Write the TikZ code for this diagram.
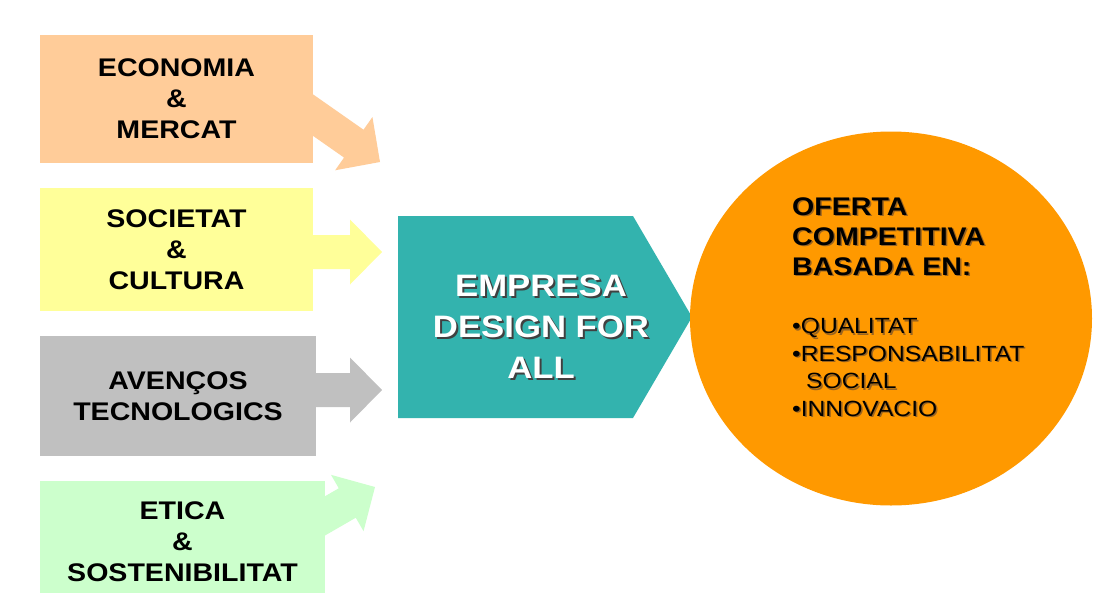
\documentclass[tikz,border=0pt]{standalone}
\usepackage{fontspec}
\setmainfont{Liberation Sans}
\newfontfamily\diagfont{Liberation Sans}[FakeStretch=1.12]
\usepackage{tikz}
\usetikzlibrary{shapes,positioning}
\definecolor{econcol}{HTML}{FFCC99}
\definecolor{soccol}{HTML}{FFFF99}
\definecolor{teccol}{HTML}{C0C0C0}
\definecolor{eticacol}{HTML}{CCFFCC}
\definecolor{empresacol}{HTML}{33B3AE}
\definecolor{ofertacol}{HTML}{FF9900}
\definecolor{ofertashade}{HTML}{9A6420}
\tikzset{factor/.style={rectangle, inner sep=0pt, align=center, font=\diagfont\bfseries\fontsize{25.5}{31}\selectfont}}
\tikzset{bigtext/.style={inner sep=0pt, align=center, font=\diagfont\bfseries\fontsize{31}{41}\selectfont}}
\tikzset{circtitle/.style={inner sep=0pt, align=left, anchor=north west, font=\diagfont\bfseries\fontsize{25.5}{30}\selectfont}}
\tikzset{circlist/.style={inner sep=0pt, align=left, anchor=north west, font=\diagfont\fontsize{22}{27.5}\selectfont}}
% block arrow: colour, tip, angle
\newcommand{\factorarrow}[3]{%
  \fill[#1, shift={(#2)}, rotate=#3] (0,0) -- (-32,32.5) -- (-32,17) -- (-110,17)
    -- (-110,-17) -- (-32,-17) -- (-32,-32.5) -- cycle;}

\begin{document}
\begin{tikzpicture}[x=1pt,y=-1pt]
\clip (0,0) rectangle (1103,592);
\fill[white] (0,0) rectangle (1103,592);
% arrow tips
\coordinate (tipecon)  at (380,162);
\coordinate (tipsoc)   at (382,252);
\coordinate (tiptec)   at (382,390);
\coordinate (tipetica) at (375,487);
\factorarrow{econcol}{tipecon}{-35}
\factorarrow{soccol}{tipsoc}{0}
\factorarrow{teccol}{tiptec}{0}
\factorarrow{eticacol}{tipetica}{30}
% factor boxes
\node [factor, fill=econcol, minimum width=273, minimum height=128] (econ) at (176.5,99) {ECONOMIA\\ \&\\ MERCAT};
\node [factor, fill=soccol, minimum width=273, minimum height=123, below=25pt of econ] (soc) {SOCIETAT\\ \&\\ CULTURA};
\node [factor, fill=teccol, minimum width=276, minimum height=120, below=24pt of soc, xshift=1.5pt] (tec) {AVENÇOS\\ TECNOLOGICS};
\node [factor, fill=eticacol, minimum width=285, minimum height=122, below=25pt of tec, xshift=4.5pt] (etica) {ETICA\\ \&\\ SOSTENIBILITAT};
% company
\fill[empresacol] (398,216) -- (633,216) -- (692,317) -- (633,418) -- (398,418) -- cycle;
\node [bigtext, text=black!75] (empresashadow) at (543,328.5) {EMPRESA\\ DESIGN FOR\\ ALL};
\node [bigtext, text=white] (empresa) at (541,326.5) {EMPRESA\\ DESIGN FOR\\ ALL};
% offer
\node [ellipse, fill=ofertacol, inner sep=0pt, minimum width=402, minimum height=374] (oferta) at (891,318.5) {};
\node [circtitle, text=ofertashade] (titleshadow) at (793.5,198.5) {OFERTA\\ COMPETITIVA\\ BASADA EN:};
\node [circtitle] (title) at (792,197) {OFERTA\\ COMPETITIVA\\ BASADA EN:};
\node [circlist, text=ofertashade] (listshadow) at (793.5,319.5) {•QUALITAT\\ •RESPONSABILITAT\\ \hspace*{14pt}SOCIAL\\ •INNOVACIO};
\node [circlist] (list) at (792,318) {•QUALITAT\\ •RESPONSABILITAT\\ \hspace*{14pt}SOCIAL\\ •INNOVACIO};
\end{tikzpicture}
\end{document}
